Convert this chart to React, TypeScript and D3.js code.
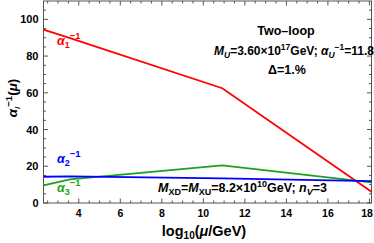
import React, { useEffect, useRef } from 'react';
import * as d3 from 'd3';

// log10(mu/GeV) breakpoints and inverse couplings
const muPoints = [2.3, 3.58, 10.91, 18.1];
const alpha1 = [94.4, 89.8, 62.5, 6.1];
const alpha2 = [14.3, 14.5, 13.4, 11.9];
const alpha3 = [9.6, 12.9, 20.5, 11.2];

const xTicks = [4, 6, 8, 10, 12, 14, 16, 18];
const yTicks = [0, 20, 40, 60, 80, 100];

const W = 374;
const H = 243;

export default function App() {
  const svgRef = useRef<SVGSVGElement>(null);

  useEffect(() => {
    if (!svgRef.current) return;
    const svg = d3.select(svgRef.current);
    svg.selectAll('*').remove();

    const left = 43.5, right = 371.5, top = 1, bottom = 203;
    const x = d3.scaleLinear().domain([2.3, 18.1]).range([left, right]);
    const y = d3.scaleLinear().domain([0, 110]).range([bottom, top]);
    const font = 'Liberation Sans, Arial, sans-serif';

    // frame
    svg.append('rect')
      .attr('x', left).attr('y', top)
      .attr('width', right - left).attr('height', bottom - top)
      .attr('fill', 'none').attr('stroke', '#555').attr('stroke-width', 1);

    // ticks on all four sides, pointing inwards
    const xMinor = d3.range(2.5, 18.01, 0.5).filter(v => !xTicks.includes(v));
    const tk = svg.append('g').attr('stroke', '#555').attr('stroke-width', 1);
    xTicks.forEach(v => {
      tk.append('line').attr('x1', x(v)).attr('x2', x(v)).attr('y1', bottom).attr('y2', bottom - 4.5);
      tk.append('line').attr('x1', x(v)).attr('x2', x(v)).attr('y1', top).attr('y2', top + 4.5);
    });
    xMinor.forEach(v => {
      tk.append('line').attr('x1', x(v)).attr('x2', x(v)).attr('y1', bottom).attr('y2', bottom - 2.5);
      tk.append('line').attr('x1', x(v)).attr('x2', x(v)).attr('y1', top).attr('y2', top + 2.5);
    });
    const yMinor = d3.range(5, 110, 5).filter(v => !yTicks.includes(v));
    yTicks.forEach(v => {
      tk.append('line').attr('x1', left).attr('x2', left + 4.5).attr('y1', y(v)).attr('y2', y(v));
      tk.append('line').attr('x1', right).attr('x2', right - 4.5).attr('y1', y(v)).attr('y2', y(v));
    });
    yMinor.forEach(v => {
      tk.append('line').attr('x1', left).attr('x2', left + 2.5).attr('y1', y(v)).attr('y2', y(v));
      tk.append('line').attr('x1', right).attr('x2', right - 2.5).attr('y1', y(v)).attr('y2', y(v));
    });

    // tick labels
    svg.append('g').selectAll('text').data(xTicks).enter().append('text')
      .attr('x', d => Math.min(x(d), 367)).attr('y', bottom + 14)
      .attr('text-anchor', 'middle')
      .attr('font-family', font).attr('font-size', 10.5).attr('font-weight', 'bold')
      .text(d => d);
    svg.append('g').selectAll('text').data(yTicks).enter().append('text')
      .attr('x', left - 5).attr('y', d => y(d) + 4)
      .attr('text-anchor', 'end')
      .attr('font-family', font).attr('font-size', 11).attr('font-weight', 'bold')
      .text(d => d);

    // curves
    const line = d3.line<number>().x((_, i) => x(muPoints[i])).y(d => y(d));
    const series: [number[], string][] = [[alpha1, '#ff0000'], [alpha3, '#1aa31a'], [alpha2, '#0000ff']];
    series.forEach(([vals, col]) => {
      svg.append('path').datum(vals).attr('d', line)
        .attr('fill', 'none').attr('stroke', col).attr('stroke-width', 1.8);
    });

    // axis titles
    const xt = svg.append('text')
      .attr('x', 204).attr('y', 236).attr('text-anchor', 'middle')
      .attr('font-family', font).attr('font-size', 14.5).attr('font-weight', 'bold');
    xt.append('tspan').text('log');
    xt.append('tspan').attr('font-size', 10).attr('dy', 3).text('10');
    xt.append('tspan').attr('dy', -3).text('(');
    xt.append('tspan').attr('font-style', 'italic').text('μ');
    xt.append('tspan').text('/GeV)');

    const yt = svg.append('text')
      .attr('transform', 'translate(17,98) rotate(-90)').attr('text-anchor', 'middle')
      .attr('font-family', font).attr('font-size', 13.5).attr('font-weight', 'bold');
    yt.append('tspan').attr('font-style', 'italic').text('α');
    yt.append('tspan').attr('font-size', 8).attr('dy', 3).attr('font-style', 'italic').text('i');
    yt.append('tspan').attr('font-size', 9.5).attr('dy', -8).text('−1');
    yt.append('tspan').attr('dy', 5).text('(');
    yt.append('tspan').attr('font-style', 'italic').text('μ');
    yt.append('tspan').text(')');

    // curve labels
    const alphaLabel = (lx: number, ly: number, idx: string, col: string) => {
      const t = svg.append('text').attr('x', lx).attr('y', ly)
        .attr('font-family', font).attr('font-size', 12.5).attr('fill', col).attr('font-weight', 'bold');
      t.append('tspan').attr('font-style', 'italic').text('α');
      t.append('tspan').attr('font-size', 9).attr('dy', 3).text(idx);
      t.append('tspan').attr('font-size', 9.5).attr('dy', -9).text('−1');
    };
    alphaLabel(57, 45, '1', '#ff0000');
    alphaLabel(57, 163, '2', '#0000ff');
    alphaLabel(57, 192, '3', '#1aa31a');

    // annotation
    const ann = svg.append('g').attr('font-family', font).attr('font-weight', 'bold').attr('font-size', 12);
    ann.append('text').attr('x', 286).attr('y', 35).attr('font-size', 12.5).attr('text-anchor', 'middle').text('Two–loop');
    const l2 = ann.append('text').attr('x', 294).attr('y', 55).attr('text-anchor', 'middle');
    l2.append('tspan').attr('font-style', 'italic').text('M');
    l2.append('tspan').attr('font-style', 'italic').attr('font-size', 8.5).attr('dy', 3).text('U');
    l2.append('tspan').attr('dy', -3).text('=3.60×10');
    l2.append('tspan').attr('font-size', 8.5).attr('dy', -5).text('17');
    l2.append('tspan').attr('dy', 5).text('GeV; ');
    l2.append('tspan').attr('font-style', 'italic').text('α');
    l2.append('tspan').attr('font-style', 'italic').attr('font-size', 8.5).attr('dy', 3).text('U');
    l2.append('tspan').attr('font-size', 8.5).attr('dy', -8).text('−1');
    l2.append('tspan').attr('dy', 5).text('=11.8');
    ann.append('text').attr('x', 287).attr('y', 74).attr('font-size', 12.5).attr('text-anchor', 'middle').text('Δ=1.%');

    const l4 = ann.append('text').attr('x', 158).attr('y', 192).attr('font-size', 12.5);
    l4.append('tspan').attr('font-style', 'italic').text('M');
    l4.append('tspan').attr('font-size', 9).attr('dy', 3).text('XD');
    l4.append('tspan').attr('dy', -3).text('=');
    l4.append('tspan').attr('font-style', 'italic').text('M');
    l4.append('tspan').attr('font-size', 9).attr('dy', 3).text('XU');
    l4.append('tspan').attr('dy', -3).text('=8.2×10');
    l4.append('tspan').attr('font-size', 9).attr('dy', -5).text('10');
    l4.append('tspan').attr('dy', 5).text('GeV; ');
    l4.append('tspan').attr('font-style', 'italic').text('n');
    l4.append('tspan').attr('font-style', 'italic').attr('font-size', 9).attr('dy', 3).text('V');
    l4.append('tspan').attr('dy', -3).text('=3');
  }, []);

  return (
    <svg ref={svgRef} width={W} height={H}
      style={{ position: 'absolute', left: 0, top: 0, background: '#fff' }} />
  );
}
